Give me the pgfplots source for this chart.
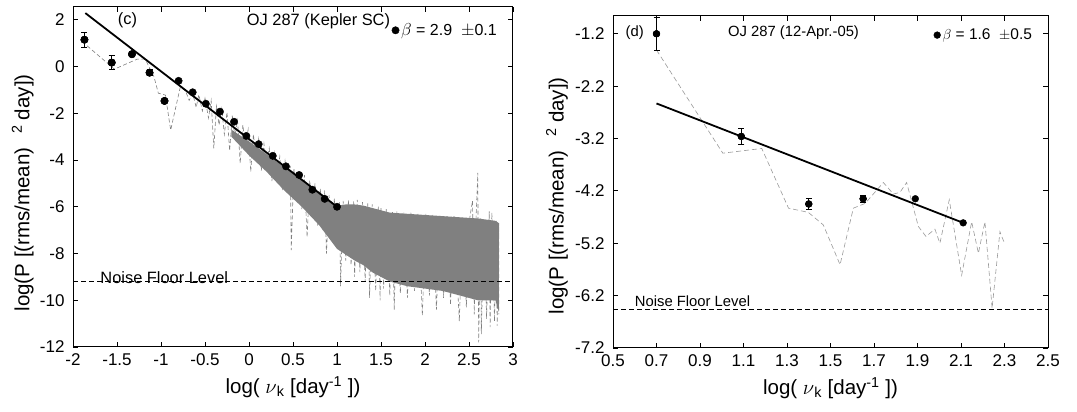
\documentclass[border=0pt]{standalone}
\usepackage{fontspec}
\setmainfont{Liberation Sans}
\usepackage{pgfplots}
\pgfplotsset{compat=1.18}
\newcommand{\tickfont}{\fontsize{17}{19}\selectfont}
\newcommand{\labfont}{\fontsize{20.5}{23}\selectfont}
\begin{document}
\fontsize{16}{18}\selectfont
\begin{tikzpicture}
\useasboundingbox (0,0) rectangle (1077pt,412pt);
\pgfplotsset{
  myax/.style={scale only axis, axis line style={line width=1pt}, tick style={black, line width=0.9pt},
    major tick length=5pt, tick align=inside, tick pos=both,
    tick label style={font=\tickfont},
    xticklabel style={yshift=-1pt}, yticklabel style={xshift=-3pt},
    label style={font=\labfont},
    legend cell align=left},
  ptstyle/.style={only marks, mark=*, mark size=3.7pt, black},
  errstyle/.style={only marks, mark=*, mark size=3.7pt, black,
    error bars/y dir=both, error bars/y explicit, error bars/error bar style={line width=0.9pt},
    error bars/error mark options={line width=0.9pt, mark size=3pt, rotate=90}},
}
% ---------------- left panel (c) ----------------
\begin{axis}[myax, at={(73pt,65pt)}, anchor=south west, width=440pt, height=340pt,
  xmin=-2, xmax=3, ymin=-12, ymax=2.55,
  xtick={-2,-1.5,-1,-0.5,0,0.5,1,1.5,2,2.5,3},
  xticklabels={-2,-1.5,-1,-0.5,0,0.5,1,1.5,2,2.5,3},
  ytick={-12,-10,-8,-6,-4,-2,0,2},
  yticklabels={-12,-10,-8,-6,-4,-2,0,2},
  xlabel={log( $\nu$\textsubscript{k} [day\textsuperscript{-1} ])},
  ylabel={log(P [(rms/mean)\hspace{14pt}\textsuperscript{2}\hspace{5pt}day])},
  xlabel style={at={(axis description cs:0.5,0)}, anchor=center, yshift=-40pt},
  ylabel style={at={(axis description cs:-0.114,0.453)}, anchor=center},
  legend style={draw=none, fill=none, font=\fontsize{16}{18}\selectfont, at={(0.975,0.965)}, anchor=north east},
]
% dense core of the periodogram
\addplot[draw=none, fill=gray, forget plot] coordinates {
(-0.2,-2.7) (0.0,-3.2) (0.2,-3.75) (0.4,-4.3) (0.6,-4.85) (0.8,-5.4) (1.0,-5.95) (1.1,-5.9)
(1.2,-5.9) (1.3,-5.95) (1.4,-6.05) (1.5,-6.15) (1.6,-6.25) (1.8,-6.3) (2.0,-6.35) (2.2,-6.4)
(2.4,-6.45) (2.6,-6.5) (2.8,-6.6) (2.84,-6.7)
(2.84,-10.5) (2.8,-10.0) (2.6,-10.0) (2.4,-9.8) (2.2,-9.6) (2.0,-9.5) (1.8,-9.4) (1.6,-9.2)
(1.4,-8.8) (1.3,-8.5) (1.2,-8.3) (1.0,-7.8) (0.8,-6.8) (0.6,-6.0) (0.4,-5.3) (0.2,-4.5)
(0.0,-3.8) (-0.2,-3.0)} -- cycle;
% periodogram (dashed)
\addplot[gray, line width=0.6pt, dash pattern=on 4pt off 2.5pt, forget plot] coordinates {
(-1.84,0.89) (-1.53,-0.11) (-1.27,0.32) (-1.18,0.32) (-1.08,-0.43) (-1.03,-1.14) (-0.95,-1.22)
(-0.89,-2.72) (-0.78,-0.86) (-0.72,-1.05) (-0.68,-1.45) (-0.64,-1.15) (-0.60,-1.75) (-0.57,-1.2)
(-0.53,-1.9) (-0.50,-1.35) (-0.46,-2.2) (-0.43,-1.45) (-0.40,-3.5) (-0.37,-1.7) (-0.34,-2.5)
(-0.31,-1.8) (-0.28,-2.9) (-0.25,-1.95) (-0.22,-3.6) (-0.19,-2.1) (-0.16,-3.0) (-0.13,-2.3)
(-0.10,-4.15) (-0.07,-2.5) (-0.04,-3.4) (-0.01,-2.7) (0.02,-4.5) (0.05,-2.9) (0.08,-3.9)
(0.11,-3.1) (0.14,-4.45) (0.17,-3.3) (0.20,-4.2) (0.23,-3.5) (0.26,-4.9) (0.29,-3.7) (0.32,-4.6)
(0.35,-3.85) (0.38,-5.3) (0.41,-4.05) (0.44,-5.0) (0.47,-4.25) (0.48,-7.85) (0.51,-4.35)
(0.54,-5.6) (0.57,-4.5) (0.60,-6.1) (0.63,-4.65) (0.66,-7.3) (0.69,-4.85) (0.72,-6.3) (0.75,-5.0)
(0.78,-6.8) (0.81,-5.2) (0.84,-7.0) (0.86,-5.3) (0.88,-8.0) (0.91,-5.5) (0.94,-7.3) (0.97,-5.65)
(1.00,-7.6) (1.03,-5.8) (1.04,-9.4) (1.07,-5.75) (1.10,-8.3) (1.13,-5.7) (1.16,-8.5) (1.19,-5.75)
(1.20,-9.0) (1.23,-5.7) (1.26,-8.8) (1.29,-5.8) (1.32,-9.2) (1.35,-5.85) (1.37,-9.9) (1.40,-5.9)
(1.44,-9.6) (1.47,-5.95) (1.49,-10.0) (1.50,-6.0) (1.53,-9.5) (1.56,-6.1) (1.60,-9.8) (1.63,-6.2)
(1.65,-10.4) (1.68,-6.2) (1.72,-9.7) (1.76,-6.25) (1.80,-9.9) (1.84,-6.25) (1.88,-9.6) (1.92,-6.3)
(1.97,-10.65) (2.01,-6.3) (2.05,-9.8) (2.09,-6.35) (2.13,-10.4) (2.17,-6.35) (2.21,-9.9) (2.25,-6.4)
(2.29,-10.2) (2.33,-6.4) (2.39,-10.9) (2.43,-6.45) (2.47,-10.3) (2.51,-6.45) (2.54,-5.74)
(2.56,-10.6) (2.58,-6.5) (2.60,-4.55) (2.61,-11.8) (2.63,-6.5) (2.64,-11.45) (2.67,-6.55)
(2.70,-10.8) (2.73,-6.2) (2.74,-11.15) (2.76,-6.25) (2.79,-10.9) (2.81,-6.6) (2.82,-11.1)
(2.84,-6.7) (2.84,-10.6)};
% noise floor
\addplot[black, line width=0.8pt, dash pattern=on 5pt off 3pt, forget plot] coordinates {(-2,-9.2) (3,-9.2)};
% fit
\addplot[black, line width=1.8pt, forget plot] coordinates {(-1.86,2.29) (1.0,-6.0)};
% binned points with errors
\addplot[errstyle, forget plot] coordinates {
(-1.87,1.15) +- (0,0.32)
(-1.56,0.17) +- (0,0.30)
(-1.33,0.53) +- (0,0.10)
(-1.13,-0.26) +- (0,0.12)
(-0.96,-1.47) +- (0,0.08)};
\addplot[ptstyle] coordinates {
(-1.87,1.15) (-1.56,0.17) (-1.33,0.53) (-1.13,-0.26) (-0.96,-1.47) (-0.80,-0.61) (-0.64,-1.10)
(-0.49,-1.59) (-0.33,-1.93) (-0.17,-2.36) (-0.03,-2.97) (0.11,-3.32) (0.27,-3.82) (0.42,-4.27)
(0.57,-4.64) (0.72,-5.27) (0.86,-5.66) (1.00,-6.00)};
\addlegendentry{$\beta$ = 2.9 \ $\pm$0.1}
\node[anchor=center, font=\fontsize{16.4}{18}\selectfont] at (axis cs:-1.38,2.0) {(c)};
\node[anchor=center, font=\fontsize{16.4}{18}\selectfont] at (axis cs:0.79,1.95) {OJ 287 (Kepler SC)};
\node[anchor=west, inner sep=0pt, font=\fontsize{16.4}{18}\selectfont] at (axis cs:-1.69,-9.02) {Noise Floor Level};
\end{axis}
% ---------------- right panel (d) ----------------
\begin{axis}[myax, at={(613pt,64pt)}, anchor=south west, width=435pt, height=332pt,
  xmin=0.5, xmax=2.5, ymin=-7.2, ymax=-0.86,
  xtick={0.5,0.7,0.9,1.1,1.3,1.5,1.7,1.9,2.1,2.3,2.5},
  xticklabels={0.5,0.7,0.9,1.1,1.3,1.5,1.7,1.9,2.1,2.3,2.5},
  ytick={-7.2,-6.2,-5.2,-4.2,-3.2,-2.2,-1.2},
  yticklabels={-7.2,-6.2,-5.2,-4.2,-3.2,-2.2,-1.2},
  xlabel={log( $\nu$\textsubscript{k} [day\textsuperscript{-1} ])},
  ylabel={log(P [(rms/mean)\hspace{14pt}\textsuperscript{2}\hspace{5pt}day])},
  xlabel style={at={(axis description cs:0.5,0)}, anchor=center, yshift=-40pt},
  ylabel style={at={(axis description cs:-0.129,0.458)}, anchor=center},
  legend style={draw=none, fill=none, font=\fontsize{15.5}{18}\selectfont, at={(0.975,0.975)}, anchor=north east},
]
\addplot[gray!80, line width=0.6pt, dash pattern=on 5pt off 3pt, forget plot] coordinates {
(0.70,-1.51) (1.005,-3.48) (1.184,-3.39) (1.307,-4.53) (1.398,-4.61) (1.467,-4.85) (1.544,-5.61)
(1.605,-4.53) (1.659,-4.44) (1.743,-4.04) (1.789,-4.26) (1.819,-4.23) (1.85,-4.04) (1.904,-4.88)
(1.939,-5.07) (1.98,-4.93) (2.003,-5.2) (2.046,-4.37) (2.103,-5.81) (2.149,-4.79) (2.18,-5.39)
(2.21,-4.79) (2.243,-6.44) (2.279,-4.98) (2.30,-5.2)};
\addplot[black, line width=0.8pt, dash pattern=on 5pt off 3pt, forget plot] coordinates {(0.5,-6.47) (2.5,-6.47)};
\addplot[black, line width=1.8pt, forget plot] coordinates {(0.70,-2.53) (2.11,-4.81)};
\addplot[errstyle, mark size=3.4pt, forget plot] coordinates {
(0.70,-1.20) +- (0,0.32)
(1.09,-3.16) +- (0,0.15)
(1.40,-4.45) +- (0,0.10)
(1.65,-4.35) +- (0,0.07)};
\addplot[ptstyle, mark size=3.4pt] coordinates {
(0.70,-1.20) (1.09,-3.16) (1.40,-4.45) (1.65,-4.35) (1.89,-4.35) (2.11,-4.81)};
\addlegendentry{$\beta$ = 1.6 \ $\pm$0.5}
\node[anchor=center, font=\fontsize{14.8}{17}\selectfont] at (axis cs:0.60,-1.18) {(d)};
\node[anchor=center, font=\fontsize{14.8}{17}\selectfont] at (axis cs:1.33,-1.18) {OJ 287 (12-Apr.-05)};
\node[anchor=west, inner sep=0pt, font=\fontsize{14.8}{17}\selectfont] at (axis cs:0.60,-6.30) {Noise Floor Level};
\end{axis}
\end{tikzpicture}
\end{document}
